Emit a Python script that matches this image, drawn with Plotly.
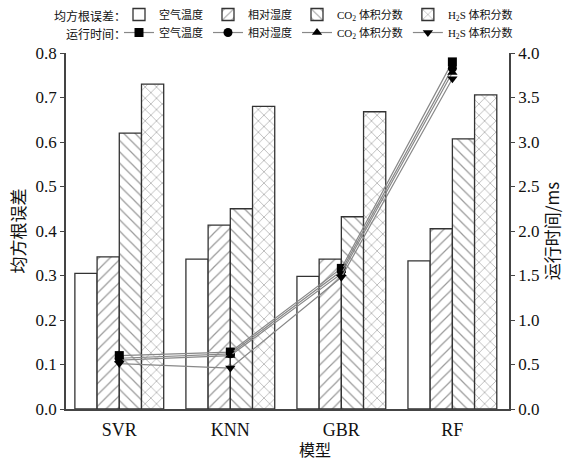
import plotly.graph_objects as go

models = ["SVR", "KNN", "GBR", "RF"]
rmse_air = [0.305, 0.337, 0.298, 0.333]
rmse_hum = [0.342, 0.413, 0.337, 0.405]
rmse_co2 = [0.620, 0.450, 0.432, 0.607]
rmse_h2s = [0.730, 0.680, 0.668, 0.706]
time_air = [0.60, 0.64, 1.58, 3.90]
time_hum = [0.57, 0.62, 1.55, 3.83]
time_co2 = [0.55, 0.60, 1.52, 3.78]
time_h2s = [0.51, 0.46, 1.48, 3.71]

names = ["空气温度", "相对湿度", "CO<sub>2</sub> 体积分数", "H<sub>2</sub>S 体积分数"]
patterns = ["", "/", "\\", "x"]
symbols = ["square", "circle", "triangle-up", "triangle-down"]

FONT = "Liberation Serif, Times New Roman, Noto Sans CJK SC"
CJK = "Noto Sans CJK SC, Liberation Serif"
AXC = "#444"
W, H = 569, 462

fig = go.Figure()
for vals, nm, pat in zip([rmse_air, rmse_hum, rmse_co2, rmse_h2s], names, patterns):
    fig.add_trace(go.Bar(
        x=models, y=vals, name=nm, legend="legend",
        marker=dict(color="white", line=dict(color="#333", width=1.3),
                    pattern=dict(shape=pat, fgcolor="#333", bgcolor="white", size=8, solidity=0.15)),
    ))
for vals, nm, sym in zip([time_air, time_hum, time_co2, time_h2s], names, symbols):
    fig.add_trace(go.Scatter(
        x=models, y=vals, name=nm, legend="legend2", yaxis="y2",
        mode="lines+markers",
        line=dict(color="#888", width=1.2),
        marker=dict(symbol=sym, size=9, color="black"),
    ))

LEG_FONT = 11
LEG_X = 119 / W
fig.update_layout(
    width=W, height=H,
    margin=dict(l=66, r=60, t=53, b=53),
    paper_bgcolor="white", plot_bgcolor="white",
    barmode="group", bargap=0.2, bargroupgap=0,
    font=dict(family=FONT, size=15, color="#111"),
    xaxis=dict(range=[-0.48, 3.51], showline=True, linecolor=AXC, linewidth=1.5,
               ticks="", tickfont=dict(size=18, family=FONT), ticklabelstandoff=4,
               automargin=False),
    yaxis=dict(range=[0, 0.8], dtick=0.1, tickformat=".1f", showline=True, linecolor=AXC,
               linewidth=1.5, ticks="outside", ticklen=4, tickcolor=AXC, showgrid=False,
               zeroline=False, tickfont=dict(size=17, family=FONT), automargin=False,
               title=dict(text="均方根误差", font=dict(size=17, family=CJK), standoff=6)),
    yaxis2=dict(range=[0, 4.0], dtick=0.5, tickformat=".1f", overlaying="y", side="right",
                showline=True, linecolor=AXC, linewidth=1.5, ticks="outside", ticklen=4,
                tickcolor=AXC, showgrid=False, zeroline=False, automargin=False,
                tickfont=dict(size=17, family=FONT),
                title=dict(text="运行时间/ms", font=dict(size=17, family=CJK), standoff=6)),
    legend=dict(orientation="h", xref="container", yref="container", x=LEG_X, y=1.0,
                xanchor="left", yanchor="top", font=dict(size=LEG_FONT, family=FONT),
                itemwidth=30, tracegroupgap=0, bgcolor="rgba(0,0,0,0)"),
    legend2=dict(orientation="h", xref="container", yref="container", x=LEG_X,
                 y=0.961, xanchor="left", yanchor="top", font=dict(size=LEG_FONT, family=FONT),
                 itemwidth=30, tracegroupgap=0, bgcolor="rgba(0,0,0,0)"),
    annotations=[
        dict(text="均方根误差：", xref="paper", yref="paper", x=(128 - 66) / (W - 126),
             y=1 + (53 - 15) / (H - 106), xanchor="right", yanchor="middle", showarrow=False,
             font=dict(size=12, family=CJK, color="#111")),
        dict(text="运行时间：", xref="paper", yref="paper", x=(128 - 66) / (W - 126),
             y=1 + (53 - 33) / (H - 106), xanchor="right", yanchor="middle", showarrow=False,
             font=dict(size=12, family=CJK, color="#111")),
        dict(text="模型", xref="paper", yref="paper", x=(315 - 66) / (W - 126),
             y=-(449 - 409) / (H - 106), xanchor="center", yanchor="middle", showarrow=False,
             borderpad=0, font=dict(size=16, family=CJK, color="#111")),
    ],
)

fig.write_html("out.html")
